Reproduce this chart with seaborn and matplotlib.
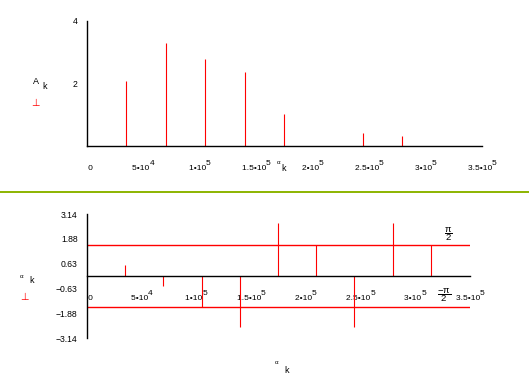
import numpy as np
import pandas as pd
import seaborn as sns
import matplotlib.pyplot as plt
from matplotlib.lines import Line2D

# spectrum lines
freq_amp = [34900, 69800, 104700, 139600, 174500, 244300, 279200]
amp = [2.08, 3.30, 2.78, 2.37, 1.02, 0.42, 0.32]

freq_phase = [34900, 69800, 104700, 139600, 174500, 209400, 244300, 279200, 314100]
phase = [0.56, -0.50, -1.57, -2.58, 2.68, 1.57, -2.58, 2.68, 1.57]

x_ticks = [0, 5e4, 1e5, 1.5e5, 2e5, 2.5e5, 3e5, 3.5e5]
x_mant = ["0", "5", "1", "1.5", "2", "2.5", "3", "3.5"]
x_exp = ["", "4", "5", "5", "5", "5", "5", "5"]
amp_ticks = [2, 4]
phase_ticks = [-3.14, -1.88, -0.63, 0.63, 1.88, 3.14]
half_pi = [np.pi / 2, -np.pi / 2]

sns.set_theme(style="white", rc={
    "axes.edgecolor": "black",
    "text.color": "black",
    "xtick.color": "black",
    "ytick.color": "black",
})
plt.rcParams['font.family'] = ['Liberation Sans', 'DejaVu Sans']
plt.rcParams['mathtext.fontset'] = 'custom'
plt.rcParams['mathtext.rm'] = 'Liberation Sans'
plt.rcParams['mathtext.it'] = 'Liberation Sans'
plt.rcParams['mathtext.default'] = 'regular'

W, H = 529, 375
fig = plt.figure(figsize=(W / 100, H / 100), dpi=100)
fig.patch.set_facecolor('white')


def px(x, y):
    return x / W, 1 - y / H


def mathcad_label(m, e):
    # exponent written full size on a raised line, like Mathcad does
    if not e:
        return "\n   " + m
    return e + "\n" + m + "\u202210  "


def style_axis(ax):
    for s in ['top', 'right']:
        ax.spines[s].set_visible(False)
    for s in ['left', 'bottom']:
        ax.spines[s].set_linewidth(1.0)
        ax.spines[s].set_color('black')
    ax.set_facecolor('none')
    ax.tick_params(axis='both', direction='inout', length=5.5, width=0.9,
                   labelsize=6.2, colors='black')
    ax.tick_params(axis='x', pad=14.2, labelsize=6.0)
    ax.tick_params(axis='y', pad=4.0)
    ax.set_xlim(0, 3.5e5)
    ax.set_xticks(x_ticks)
    ax.set_xticklabels([mathcad_label(m, e) for m, e in zip(x_mant, x_exp)],
                       va='baseline', multialignment='right', linespacing=0.6)
    ax.grid(False)


# --- amplitude spectrum ---
ax1 = fig.add_axes([87 / W, 1 - 146 / H, 395 / W, 125 / H])
style_axis(ax1)
ax1.set_ylim(0, 4)
ax1.set_yticks(amp_ticks)
ax1.set_yticklabels([str(t) for t in amp_ticks])
ax1.vlines(freq_amp, 0, amp, color='red', lw=0.8)

# --- phase spectrum ---
ax2 = fig.add_axes([87 / W, 1 - 338 / H, 383 / W, 124 / H])
ax2.set_ylim(-3.14, 3.14)
ax2.spines['bottom'].set_position(('data', 0))  # before styling: this resets ticks
ref = pd.DataFrame({"x": [0, 3.5e5] * 2,
                    "y": [half_pi[0]] * 2 + [half_pi[1]] * 2,
                    "g": ["up", "up", "dn", "dn"]})
sns.lineplot(data=ref, x="x", y="y", units="g", estimator=None, color='red',
             lw=1.0, ax=ax2, legend=False)
ax2.vlines(freq_phase, 0, phase, color='red', lw=0.8)
ax2.set_xlabel('')
ax2.set_ylabel('')
style_axis(ax2)
ax2.set_ylim(-3.14, 3.14)
ax2.set_yticks(phase_ticks)
ax2.set_yticklabels([f"{t:.2f}".replace('-', '\u2212') for t in phase_ticks])
ax2.text(3.3e5, half_pi[0] + 0.55, r"$\dfrac{\pi}{2}$", ha='center', va='center', fontsize=6.8)
ax2.text(3.26e5, half_pi[1] + 0.62, r"$\dfrac{-\pi}{2}$", ha='center', va='center', fontsize=6.8)

# axis labels, Mathcad style
fig.text(*px(33, 84), "A", fontsize=6.5, va='baseline')
fig.text(*px(42, 89), "k", fontsize=6.5, va='baseline')
fig.text(*px(35, 103), "\u22a5", fontsize=7, color='red', ha='center', va='center',
         family='DejaVu Sans')

fig.text(*px(22, 276), "\u03b1", fontsize=4.5, ha='center', va='center')
fig.text(*px(32, 283), "k", fontsize=6.5, ha='center', va='baseline')
fig.text(*px(24, 297), "\u22a5", fontsize=7, color='red', ha='center', va='center',
         family='DejaVu Sans')

fig.text(*px(279, 163), "\u03b1", fontsize=4.5, ha='center', va='center')
fig.text(*px(284, 171), "k", fontsize=6.5, ha='center', va='baseline')

fig.text(*px(277, 363), "\u03b1", fontsize=4.5, ha='center', va='center')
fig.text(*px(287, 373), "k", fontsize=6.5, ha='center', va='baseline')

# green separator
fig.add_artist(Line2D([0, 1], [1 - 192 / H] * 2, transform=fig.transFigure,
                      color='#8cb400', lw=1.4))

fig.savefig('out.png', dpi=100)
